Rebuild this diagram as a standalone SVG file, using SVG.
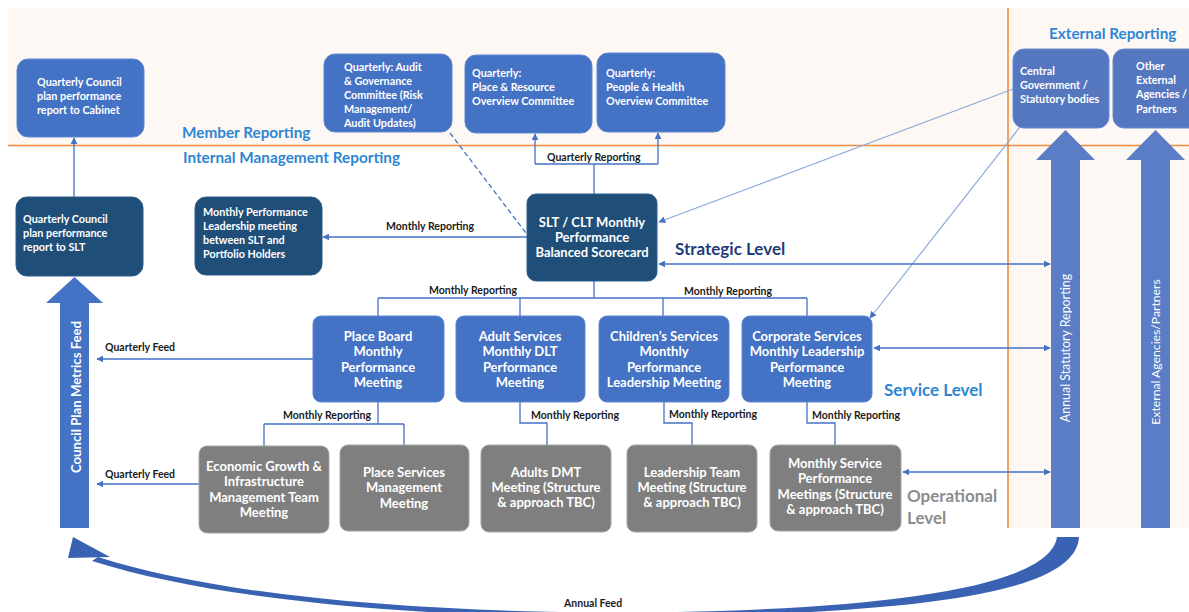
<svg xmlns="http://www.w3.org/2000/svg" width="1189" height="612" viewBox="0 0 1189 612">
  <defs>
    <marker id="arr" viewBox="0 0 10 10" refX="9" refY="5" markerWidth="7" markerHeight="7" orient="auto-start-reverse" markerUnits="userSpaceOnUse">
      <path d="M0,0 L10,5 L0,10 Z" fill="#4472c4"/>
    </marker>
    <style>
      text { font-family: Lato, "Liberation Sans", sans-serif; }
      .box-mid { fill: #4472c4; stroke: #5f87cf; stroke-width: 1; }
      .box-dark { fill: #1f4e79; stroke: #2d5d8c; stroke-width: 1; }
      .box-grey { fill: #7f7f7f; stroke: #a5a5a5; stroke-width: 1; }
      .box-ext { fill: #5577c0; stroke: #6a8bd0; stroke-width: 1; }
      .t-small { fill: #ffffff; font-size: 10.8px; font-weight: bold; }
      .t-mid { fill: #ffffff; font-size: 13px; font-weight: bold; text-anchor: middle; }
      .lbl { fill: #1a1a1a; font-size: 10.5px; font-weight: bold; }
      .band { fill: #2e86d4; font-size: 15.3px; font-weight: bold; }
      .lvl { font-size: 17px; font-weight: bold; }
      .conn { fill: none; stroke: #4472c4; stroke-width: 1.3; }
      .conn-light { fill: none; stroke: #8eaadb; stroke-width: 1.2; }
      .block { fill: #4472c4; }
      .block-ext { fill: #5a7dc5; }
    </style>
  </defs>

  <!-- background bands -->
  <rect x="0" y="0" width="1189" height="612" fill="#ffffff"/>
  <rect x="8" y="8" width="1181" height="137" fill="#fdf8f4"/>
  <rect x="1008" y="8" width="181" height="520" fill="#fdf8f4"/>
  <line x1="8" y1="145.5" x2="1189" y2="145.5" stroke="#f08a3c" stroke-width="1.6"/>
  <line x1="1008" y1="8" x2="1008" y2="528" stroke="#f08a3c" stroke-width="1.6"/>

  <!-- band titles -->
  <text class="band" x="182" y="138">Member Reporting</text>
  <text class="band" x="183" y="163">Internal Management Reporting</text>
  <text class="band" x="1049" y="39">External Reporting</text>
  <text class="lvl" x="675" y="255" fill="#1f3d7a">Strategic Level</text>
  <text class="lvl" x="884" y="396" fill="#2e86d4">Service Level</text>
  <text class="lvl" x="907" y="502" fill="#8c8c8c">Operational</text>
  <text class="lvl" x="907" y="524" fill="#8c8c8c">Level</text>

  <!-- block arrows -->
  <g id="council-plan-metrics-feed">
    <polygon class="block" points="60,528 60,303 46,303 74.5,277 103,303 89,303 89,528"/>
    <text transform="translate(80.5,397) rotate(-90)" text-anchor="middle" fill="#ffffff" font-size="13.2px" font-weight="bold">Council Plan Metrics Feed</text>
  </g>
  <g id="annual-statutory-reporting">
    <polygon class="block-ext" points="1051,528 1051,160 1036,160 1065.5,130 1095,160 1080,160 1080,528"/>
    <text transform="translate(1070,348) rotate(-90)" text-anchor="middle" fill="#ffffff" font-size="12.4px">Annual Statutory Reporting</text>
  </g>
  <g id="external-agencies-partners">
    <polygon class="block-ext" points="1141,528 1141,160 1126,160 1155.5,130 1185,160 1170,160 1170,528"/>
    <text transform="translate(1160,352) rotate(-90)" text-anchor="middle" fill="#ffffff" font-size="12.2px">External Agencies/Partners</text>
  </g>

  <!-- annual feed curved arrow -->
  <g id="annual-feed">
    <path d="M98,557 C250,606 520,617 720,611 C920,604 1050,582 1057,537 L1079,537 C1076,592 930,609 720,616 C520,622 250,611 92,561 Z" fill="#3a62b2"/>
    <polygon points="73,537 68,558 110,557" fill="#3a62b2"/>
    <text class="lbl" x="564" y="607">Annual Feed</text>
  </g>

  <!-- connectors -->
  <g id="connectors">
    <path class="conn" d="M74,197 V138" marker-end="url(#arr)"/>
    <path class="conn" d="M594,194 V164 M535,164 H658"/>
    <path class="conn" d="M535,164 V134" marker-end="url(#arr)"/>
    <path class="conn" d="M658,164 V133" marker-end="url(#arr)"/>
    <path class="conn" d="M450,133 L526,233" stroke-dasharray="5,3"/>
    <path class="conn" d="M527,237 H323" marker-end="url(#arr)"/>
    <path class="conn-light" d="M1013,89 L659,222" marker-end="url(#arr)"/>
    <path class="conn-light" d="M1020,127 L870,318" marker-end="url(#arr)"/>
    <path class="conn" d="M659,264 H1050" marker-start="url(#arr)" marker-end="url(#arr)"/>
    <path class="conn" d="M874,348 H1050" marker-start="url(#arr)" marker-end="url(#arr)"/>
    <path class="conn" d="M903,472 H1050" marker-start="url(#arr)" marker-end="url(#arr)"/>
    <path class="conn" d="M594,281 V298 M378,298 H807 M378,298 V316 M520,298 V316 M663,298 V316 M807,298 V316"/>
    <path class="conn" d="M378,402 V424 M264,424 H404 M264,424 V446 M404,424 V445"/>
    <path class="conn" d="M520,402 V423 H547 V445"/>
    <path class="conn" d="M664,402 V423 H692 V445"/>
    <path class="conn" d="M807,402 V423 H835 V445"/>
    <path class="conn" d="M313,359 H97" marker-end="url(#arr)"/>
    <path class="conn" d="M199,484 H97" marker-end="url(#arr)"/>

    <text class="lbl" x="547" y="161">Quarterly Reporting</text>
    <text class="lbl" x="386" y="230">Monthly Reporting</text>
    <text class="lbl" x="429" y="294">Monthly Reporting</text>
    <text class="lbl" x="684" y="295">Monthly Reporting</text>
    <text class="lbl" x="283" y="419">Monthly Reporting</text>
    <text class="lbl" x="531" y="419">Monthly Reporting</text>
    <text class="lbl" x="669" y="418">Monthly Reporting</text>
    <text class="lbl" x="812" y="419">Monthly Reporting</text>
    <text class="lbl" x="105" y="351">Quarterly Feed</text>
    <text class="lbl" x="105" y="478">Quarterly Feed</text>
  </g>

  <!-- member reporting -->
  <g id="cabinet-report">
    <rect class="box-mid" x="17" y="59" width="127" height="78" rx="11"/>
    <text class="t-small"><tspan x="37" y="86">Quarterly Council</tspan><tspan x="37" y="100">plan performance</tspan><tspan x="37" y="114">report to Cabinet</tspan></text>
  </g>
  <g id="audit-governance">
    <rect class="box-mid" x="324" y="54" width="128" height="78" rx="11"/>
    <text class="t-small"><tspan x="344" y="71">Quarterly: Audit</tspan><tspan x="344" y="85">&amp; Governance</tspan><tspan x="344" y="99">Committee (Risk</tspan><tspan x="344" y="113">Management/</tspan><tspan x="344" y="127">Audit Updates)</tspan></text>
  </g>
  <g id="place-resource">
    <rect class="box-mid" x="465" y="55" width="127" height="78" rx="11"/>
    <text class="t-small"><tspan x="472" y="77">Quarterly:</tspan><tspan x="472" y="91">Place &amp; Resource</tspan><tspan x="472" y="105">Overview Committee</tspan></text>
  </g>
  <g id="people-health">
    <rect class="box-mid" x="597" y="53" width="128" height="79" rx="11"/>
    <text class="t-small"><tspan x="606" y="77">Quarterly:</tspan><tspan x="606" y="91">People &amp; Health</tspan><tspan x="606" y="105">Overview Committee</tspan></text>
  </g>
  <g id="central-government">
    <rect class="box-ext" x="1013" y="49" width="96" height="79" rx="11"/>
    <text class="t-small" font-weight="normal"><tspan x="1020" y="75">Central</tspan><tspan x="1020" y="89">Government /</tspan><tspan x="1020" y="103">Statutory bodies</tspan></text>
  </g>
  <g id="other-external">
    <rect class="box-ext" x="1113" y="49" width="90" height="79" rx="11"/>
    <text class="t-small" font-weight="normal"><tspan x="1136" y="70">Other</tspan><tspan x="1136" y="84">External</tspan><tspan x="1136" y="98">Agencies /</tspan><tspan x="1136" y="113">Partners</tspan></text>
  </g>

  <!-- strategic level -->
  <g id="slt-report">
    <rect class="box-dark" x="16" y="197" width="127" height="79" rx="11"/>
    <text class="t-small"><tspan x="23" y="223">Quarterly Council</tspan><tspan x="23" y="237">plan performance</tspan><tspan x="23" y="251">report to SLT</tspan></text>
  </g>
  <g id="portfolio-meeting">
    <rect class="box-dark" x="195" y="197" width="127" height="78" rx="11"/>
    <text class="t-small"><tspan x="203" y="216">Monthly Performance</tspan><tspan x="203" y="230">Leadership meeting</tspan><tspan x="203" y="244">between SLT and</tspan><tspan x="203" y="258">Portfolio Holders</tspan></text>
  </g>
  <g id="slt-clt-scorecard">
    <rect class="box-dark" x="527" y="194" width="130" height="87" rx="9"/>
    <text class="t-mid"><tspan x="592" y="227">SLT / CLT Monthly</tspan><tspan x="592" y="242">Performance</tspan><tspan x="592" y="257">Balanced Scorecard</tspan></text>
  </g>

  <!-- service level -->
  <g id="place-board">
    <rect class="box-mid" x="313" y="316" width="131" height="86" rx="8"/>
    <text class="t-mid"><tspan x="378" y="341">Place Board</tspan><tspan x="378" y="356">Monthly</tspan><tspan x="378" y="372">Performance</tspan><tspan x="378" y="387">Meeting</tspan></text>
  </g>
  <g id="adult-services">
    <rect class="box-mid" x="456" y="316" width="129" height="86" rx="8"/>
    <text class="t-mid"><tspan x="520" y="341">Adult Services</tspan><tspan x="520" y="356">Monthly DLT</tspan><tspan x="520" y="372">Performance</tspan><tspan x="520" y="387">Meeting</tspan></text>
  </g>
  <g id="childrens-services">
    <rect class="box-mid" x="599" y="316" width="130" height="86" rx="8"/>
    <text class="t-mid"><tspan x="664" y="341">Children’s Services</tspan><tspan x="664" y="356">Monthly</tspan><tspan x="664" y="372">Performance</tspan><tspan x="664" y="387">Leadership Meeting</tspan></text>
  </g>
  <g id="corporate-services">
    <rect class="box-mid" x="742" y="316" width="130" height="86" rx="8"/>
    <text class="t-mid"><tspan x="807" y="341">Corporate Services</tspan><tspan x="807" y="356">Monthly Leadership</tspan><tspan x="807" y="372">Performance</tspan><tspan x="807" y="387">Meeting</tspan></text>
  </g>

  <!-- operational level -->
  <g id="economic-growth">
    <rect class="box-grey" x="199" y="446" width="130" height="87" rx="8"/>
    <text class="t-mid"><tspan x="264" y="471">Economic Growth &amp;</tspan><tspan x="264" y="486">Infrastructure</tspan><tspan x="264" y="502">Management Team</tspan><tspan x="264" y="517">Meeting</tspan></text>
  </g>
  <g id="place-services">
    <rect class="box-grey" x="340" y="445" width="129" height="86" rx="8"/>
    <text class="t-mid"><tspan x="404" y="477">Place Services</tspan><tspan x="404" y="492">Management</tspan><tspan x="404" y="508">Meeting</tspan></text>
  </g>
  <g id="adults-dmt">
    <rect class="box-grey" x="481" y="445" width="130" height="87" rx="8"/>
    <text class="t-mid"><tspan x="546" y="477">Adults DMT</tspan><tspan x="546" y="492">Meeting (Structure</tspan><tspan x="546" y="507">&amp; approach TBC)</tspan></text>
  </g>
  <g id="leadership-team">
    <rect class="box-grey" x="627" y="445" width="130" height="87" rx="8"/>
    <text class="t-mid"><tspan x="692" y="477">Leadership Team</tspan><tspan x="692" y="492">Meeting (Structure</tspan><tspan x="692" y="507">&amp; approach TBC)</tspan></text>
  </g>
  <g id="monthly-service">
    <rect class="box-grey" x="770" y="445" width="131" height="86" rx="8"/>
    <text class="t-mid"><tspan x="835" y="468">Monthly Service</tspan><tspan x="835" y="483">Performance</tspan><tspan x="835" y="499">Meetings (Structure</tspan><tspan x="835" y="514">&amp; approach TBC)</tspan></text>
  </g>
</svg>
